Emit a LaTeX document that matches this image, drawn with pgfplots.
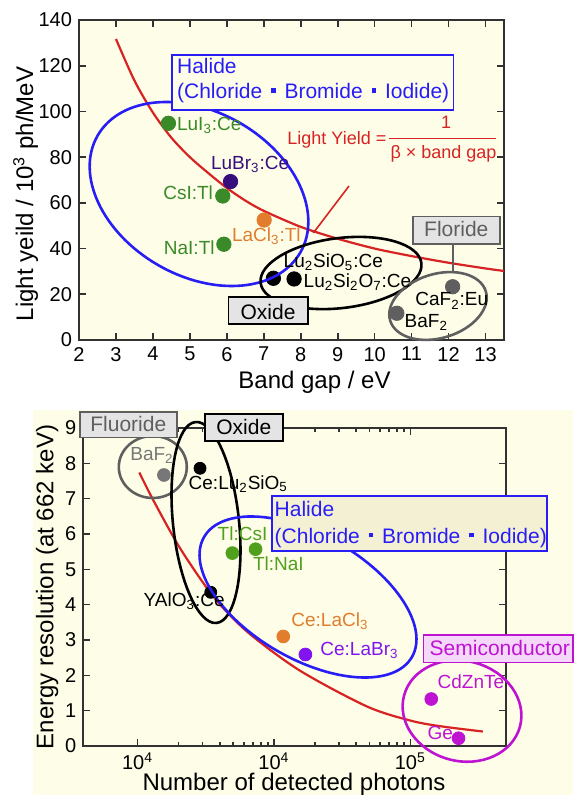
\documentclass[border=0pt]{standalone}
\usepackage{pgfplots}
\pgfplotsset{compat=1.18}
\usepackage{fontspec}
\setmainfont{Liberation Sans}

\definecolor{bgyellow}{RGB}{253,253,232}
\definecolor{haltan}{RGB}{243,240,212}
\definecolor{axgray}{RGB}{50,50,50}
\definecolor{crvred}{RGB}{215,35,35}
\definecolor{halblue}{RGB}{40,30,245}
\definecolor{dkgreen}{RGB}{58,138,40}
\definecolor{ltgreen}{RGB}{80,160,30}
\definecolor{indigo}{RGB}{55,15,125}
\definecolor{orng}{RGB}{225,125,45}
\definecolor{myviolet}{RGB}{130,20,240}
\definecolor{magen}{RGB}{190,20,210}
\definecolor{semifill}{RGB}{245,215,250}
\definecolor{fgray}{RGB}{95,95,95}
\definecolor{boxgray}{RGB}{228,228,228}

\newcommand{\sep}{\hspace{0.42em}\rule[0.28em]{0.22em}{0.22em}\hspace{0.42em}}
\newcommand{\lbl}{\fontsize{9.5}{11}\selectfont}
\newcommand{\grp}{\fontsize{10.5}{12.5}\selectfont}
\newcommand{\axl}{\fontsize{12}{14}\selectfont}

\pgfplotsset{panel/.style={
  scale only axis, anchor=south west, clip=false,
  axis line style={draw=axgray, line width=1pt},
  tick style={draw=axgray, line width=0.8pt},
  major tick length=3.4pt, minor tick length=2pt,
  tick align=inside,
  tick label style={font=\fontsize{10}{12}\selectfont},
  /pgf/number format/assume math mode=true,
}}

\begin{document}
\begin{tikzpicture}
\path[use as bounding box] (0,0) rectangle (286.5pt,-397.5pt);
\fill[bgyellow] (16.5pt,-205pt) rectangle (286.5pt,-397.5pt);

% light yield vs band gap
\begin{axis}[panel, at={(39.5pt,-170pt)}, width=212.5pt, height=160pt,
  xmin=2, xmax=13.5, ymin=0, ymax=140,
  xtick={2,...,13}, ytick={0,20,...,140},
  axis background/.style={fill=bgyellow}]
\addplot[crvred, line width=1.1pt, smooth] coordinates {
  (3,131.7) (3.5,113.5) (4,99.5) (4.5,88.5) (5,80) (5.5,73) (6,66.5) (6.5,61)
  (7,56.5) (8,49.5) (9,44.3) (10,40) (11,36.7) (12,33.8) (13,31.3) (13.5,30.2)};
\addplot[only marks, mark=*, mark size=3.6pt, dkgreen] coordinates {(4.42,94.8) (5.89,63.0) (5.92,41.9)};
\addplot[only marks, mark=*, mark size=3.6pt, indigo] coordinates {(6.10,69.3)};
\addplot[only marks, mark=*, mark size=3.6pt, orng] coordinates {(7.01,52.5)};
\addplot[only marks, mark=*, mark size=3.6pt, black] coordinates {(7.26,27.0) (7.82,26.7)};
\addplot[only marks, mark=*, mark size=3.6pt, fgray] coordinates {(12.11,23.3) (10.60,11.7)};
\end{axis}

% energy resolution vs number of detected photons
\begin{axis}[panel, at={(41.65pt,-373pt)}, width=211.2pt, height=159pt,
  xmode=log, xmin=400, xmax=500000, ymin=0, ymax=9,
  xtick={1000,10000,100000},
  xticklabels={10\textsuperscript{4},10\textsuperscript{4},10\textsuperscript{5}},
  ytick={0,...,9}]
\addplot[crvred, line width=1.1pt, smooth] coordinates {
  (1030,7.74) (1290,6.99) (1960,5.72) (2900,4.72) (4070,3.98) (6750,3.15)
  (15700,2.12) (48000,1.12) (100000,0.72) (166000,0.56) (340000,0.41)};
\addplot[only marks, mark=*, mark size=3.2pt, fgray!85] coordinates {(1560,7.67)};
\addplot[only marks, mark=*, mark size=3.0pt, black] coordinates {(2870,7.86) (3440,4.35)};
\addplot[only marks, mark=*, mark size=3.2pt, ltgreen] coordinates {(4955,5.46) (7330,5.57)};
\addplot[only marks, mark=*, mark size=3.2pt, orng] coordinates {(11700,3.10)};
\addplot[only marks, mark=*, mark size=3.2pt, myviolet] coordinates {(17000,2.59)};
\addplot[only marks, mark=*, mark size=3.2pt, magen] coordinates {(142300,1.33) (225500,0.22)};
\end{axis}

\begin{scope}[x=0.5pt, y=-0.5pt]
% ---- top panel annotations
\draw[halblue, line width=1.3pt, rotate around={-30:(199,194)}] (199,194) ellipse [x radius=58.5pt, y radius=41pt];
\draw[black, line width=1.3pt, rotate around={7:(341,273)}] (341,273) ellipse [x radius=40.5pt, y radius=17.5pt];
\draw[fgray, line width=1.3pt, rotate around={17:(438,306)}] (438,306) ellipse [x radius=25pt, y radius=16pt];
\draw[crvred, line width=0.8pt] (313.3,233) -- (349,186);
\draw[fgray, line width=0.8pt] (453,244) -- (453,271.5);

\draw[halblue, line width=0.8pt, fill=bgyellow] (171.7,55) rectangle (453.3,110);
\node[anchor=base west, text=halblue, font=\grp, inner sep=0] at (176.7,74) {Halide};
\node[anchor=base west, text=halblue, font=\grp, inner sep=0] at (176.7,99) {(Chloride\sep Bromide\sep Iodide)};
\draw[black, line width=0.8pt, fill=boxgray] (228.3,297) rectangle (308,324);
\node[anchor=base, font=\grp, inner sep=0] at (268,319.5) {Oxide};
\draw[fgray, line width=0.8pt, fill=boxgray] (412.7,216.7) rectangle (500,244);
\node[anchor=base, text=fgray, font=\grp, inner sep=0] at (456.3,236.7) {Floride};

\node[anchor=base east, text=crvred, font=\fontsize{9}{11}\selectfont, inner sep=0] at (386.7,145) {Light Yield =};
\draw[crvred, line width=0.7pt] (389.3,138.3) -- (496,138.3);
\node[anchor=base, text=crvred, font=\fontsize{9}{11}\selectfont, inner sep=0] at (446,128.3) {1};
\node[anchor=base, text=crvred, font=\fontsize{9}{11}\selectfont, inner sep=0] at (443.5,158.3) {β × band gap};

\node[anchor=base west, text=dkgreen, font=\lbl, inner sep=0] at (176.7,130.7) {LuI\textsubscript{3}:Ce};
\node[anchor=base west, text=indigo, font=\lbl, inner sep=0] at (210.7,169.3) {LuBr\textsubscript{3}:Ce};
\node[anchor=base east, text=dkgreen, font=\lbl, inner sep=0] at (213.3,199.3) {CsI:Tl};
\node[anchor=base east, text=dkgreen, font=\lbl, inner sep=0] at (215,255) {NaI:Tl};
\node[anchor=base west, text=orng, font=\lbl, inner sep=0] at (231.7,241.7) {LaCl\textsubscript{3}:Tl};
\node[anchor=base west, font=\lbl, inner sep=0] at (283.3,267.8) {Lu\textsubscript{2}SiO\textsubscript{5}:Ce};
\node[anchor=base west, font=\lbl, inner sep=0] at (303.3,287.2) {Lu\textsubscript{2}Si\textsubscript{2}O\textsubscript{7}:Ce};
\node[anchor=base west, font=\lbl, inner sep=0] at (415,306) {CaF\textsubscript{2}:Eu};
\node[anchor=base west, font=\lbl, inner sep=0] at (404.3,327.3) {BaF\textsubscript{2}};

\node[anchor=base, rotate=90, font=\axl, inner sep=0] at (33,194) {Light yeild / 10\textsuperscript{3} ph/MeV};
\node[anchor=base, font=\axl, inner sep=0] at (314.5,388) {Band gap / eV};

% ---- bottom panel annotations
\draw[fgray, line width=1.3pt] (152.8,467) ellipse [x radius=17pt, y radius=15.5pt];
\draw[black, line width=1.3pt, rotate around={6:(206,522.5)}] (206,522.5) ellipse [x radius=16.5pt, y radius=50.5pt];
\draw[halblue, line width=1.3pt, rotate around={-30:(308,597)}] (308,597) ellipse [x radius=60pt, y radius=31pt];
\draw[magen, line width=1.3pt, rotate around={-15:(462,711)}] (462,711) ellipse [x radius=30pt, y radius=25pt];

\draw[fgray, line width=0.8pt, fill=boxgray] (80,411.7) rectangle (176.7,437.3);
\node[anchor=base, text=fgray, font=\grp, inner sep=0] at (128.3,431.7) {Fluoride};
\draw[black, line width=0.8pt, fill=boxgray] (205,414) rectangle (282.7,441);
\node[anchor=base, font=\grp, inner sep=0] at (243.8,434) {Oxide};
\draw[halblue, line width=0.8pt, fill=haltan] (271.7,495.7) rectangle (546.7,550.7);
\node[anchor=base west, text=halblue, font=\grp, inner sep=0] at (274.3,516) {Halide};
\node[anchor=base west, text=halblue, font=\grp, inner sep=0] at (274.3,543.3) {(Chloride\sep Bromide\sep Iodide)};
\draw[magen, line width=0.8pt, fill=semifill] (423.3,635) rectangle (572.7,662.3);
\node[anchor=base west, text=magen, font=\grp, inner sep=0] at (429.3,655) {Semiconductor};

\node[anchor=base west, text=fgray!85, font=\lbl, inner sep=0] at (130,460) {BaF\textsubscript{2}};
\node[anchor=base west, font=\lbl, inner sep=0] at (188.3,489) {Ce:Lu\textsubscript{2}SiO\textsubscript{5}};
\node[anchor=base west, text=ltgreen, font=\lbl, inner sep=0] at (217.3,540) {Tl:CsI};
\node[anchor=base west, text=ltgreen, font=\lbl, inner sep=0] at (252.7,570.7) {Tl:NaI};
\node[anchor=base west, font=\lbl, inner sep=0] at (143.3,606.7) {YAlO\textsubscript{3}:Ce};
\node[anchor=base west, text=orng, font=\lbl, inner sep=0] at (291,626.7) {Ce:LaCl\textsubscript{3}};
\node[anchor=base west, text=myviolet, font=\lbl, inner sep=0] at (320,655) {Ce:LaBr\textsubscript{3}};
\node[anchor=base west, text=magen, font=\lbl, inner sep=0] at (437.3,688.3) {CdZnTe};
\node[anchor=base west, text=magen, font=\lbl, inner sep=0] at (427.3,739.3) {Ge};

\node[anchor=base, rotate=90, font=\axl, inner sep=0] at (53.3,587) {Energy resolution (at 662 keV)};
\node[anchor=base, font=\axl, inner sep=0] at (294,790) {Number of detected photons};
\end{scope}
\end{tikzpicture}
\end{document}
